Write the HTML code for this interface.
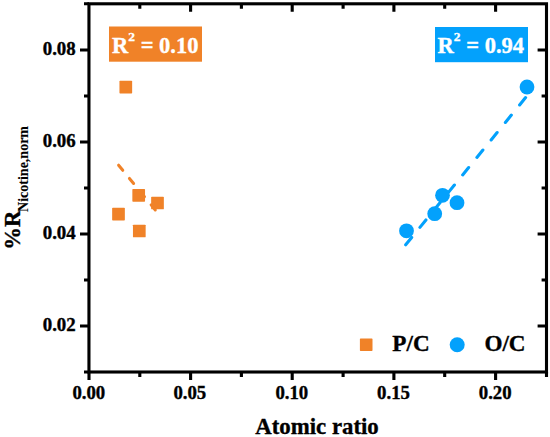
<!DOCTYPE html>
<html><head><meta charset="utf-8">
<style>
html,body{margin:0;padding:0;background:#fff;}
body{width:550px;height:437px;overflow:hidden;}
svg{display:block;}
text{font-family:"Liberation Serif",serif;font-weight:bold;fill:#000;stroke:#000;stroke-width:0.35px;}
</style></head>
<body>
<svg width="550" height="437" viewBox="0 0 550 437">
<rect width="550" height="437" fill="#fff"/>
<!-- regression lines -->
<line x1="118.6" y1="165.2" x2="155.8" y2="210.6" stroke="#F08228" stroke-width="3" stroke-linecap="round" stroke-dasharray="6.6 10.5"/>
<line x1="525.6" y1="97.6" x2="405.4" y2="245.2" stroke="#03A1FC" stroke-width="3.1" stroke-linecap="round" stroke-dasharray="9.5 13.05"/>
<!-- orange squares -->
<g fill="#F08228">
<rect x="119.45" y="80.85" width="12.7" height="12.7" rx="0.7"/>
<rect x="132.35" y="188.95" width="12.7" height="12.7" rx="0.7"/>
<rect x="151.15" y="196.65" width="12.7" height="12.7" rx="0.7"/>
<rect x="112.15" y="207.85" width="12.7" height="12.7" rx="0.7"/>
<rect x="132.95" y="224.65" width="12.7" height="12.7" rx="0.7"/>
<rect x="359.9" y="338.4" width="12.6" height="12.6" rx="0.7"/>
</g>
<!-- blue circles -->
<g fill="#03A1FC">
<circle cx="406.5" cy="230.8" r="7.4"/>
<circle cx="434.7" cy="213.7" r="7.4"/>
<circle cx="442.5" cy="195.3" r="7.4"/>
<circle cx="457" cy="202.7" r="7.4"/>
<circle cx="527" cy="87" r="7.4"/>
<circle cx="457.2" cy="344.7" r="7.5"/>
</g>
<!-- R2 boxes -->
<rect x="109" y="26.5" width="93" height="35.2" fill="#F08228"/>
<rect x="435" y="27" width="93" height="35.2" fill="#03A1FC"/>
<text x="112" y="52.7" font-size="22.5" style="fill:#fff;stroke:#fff">R<tspan font-size="13.5" dy="-12">2</tspan><tspan dy="12"> = 0.10</tspan></text>
<text x="437.6" y="52.8" font-size="22.5" style="fill:#fff;stroke:#fff">R<tspan font-size="13.5" dy="-12">2</tspan><tspan dy="12"> = 0.94</tspan></text>
<!-- frame -->
<g stroke="#000" stroke-width="3.1" fill="none" stroke-linecap="butt">
<rect x="88.95" y="3.8" width="457.55" height="368.20"/>
<path d="M190.6 372.0V380M190.6 3.8V11.8M292.2 372.0V380M292.2 3.8V11.8M393.9 372.0V380M393.9 3.8V11.8M495.6 372.0V380M495.6 3.8V11.8M89.0 372.0V380"/>
<path d="M139.8 372.0V377M139.8 3.8V8.8M241.4 372.0V377M241.4 3.8V8.8M343.1 372.0V377M343.1 3.8V8.8M444.7 372.0V377M444.7 3.8V8.8"/>
<path d="M88.95 50.0H80M546.5 50.0H537.6M88.95 142.0H80M546.5 142.0H537.6M88.95 234.0H80M546.5 234.0H537.6M88.95 326.0H80M546.5 326.0H537.6"/>
<path d="M88.95 96.0H84M546.5 96.0H541.6M88.95 188.0H84M546.5 188.0H541.6M88.95 280.0H84M546.5 280.0H541.6M88.95 372.0H84M88.95 3.8H84M546.5 372V377"/>
</g>
<!-- tick labels -->
<g font-size="17.8" text-anchor="end">
<text transform="translate(75.7,55.4) scale(1.06,1)">0.08</text>
<text transform="translate(75.7,147.4) scale(1.06,1)">0.06</text>
<text transform="translate(75.7,239.4) scale(1.06,1)">0.04</text>
<text transform="translate(75.7,331.4) scale(1.06,1)">0.02</text>
</g>
<g font-size="17.8" text-anchor="middle">
<text transform="translate(88.8,398.6) scale(1.055,1)">0.00</text>
<text transform="translate(189.8,398.6) scale(1.055,1)">0.05</text>
<text transform="translate(291.8,398.6) scale(1.055,1)">0.10</text>
<text transform="translate(393.5,398.6) scale(1.055,1)">0.15</text>
<text transform="translate(495.2,398.6) scale(1.055,1)">0.20</text>
</g>
<text x="255.3" y="433.8" font-size="22.8">Atomic ratio</text>
<text transform="translate(392.3,350.8) scale(0.965,1)" font-size="24">P/C</text>
<text transform="translate(484.4,350.8) scale(0.965,1)" font-size="24">O/C</text>
<text transform="translate(19.7,249.7) rotate(-90)" font-size="22.7">%R</text>
<text transform="translate(28.1,211.9) rotate(-90)" font-size="14" style="stroke-width:0.1px">Nicotine,norm</text>
</svg>
</body></html>
